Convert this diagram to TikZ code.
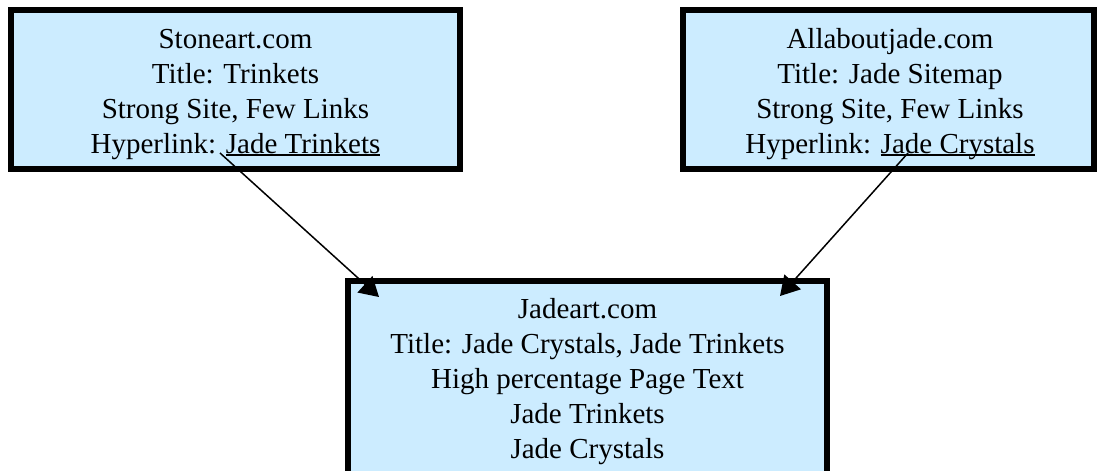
\documentclass[tikz,border=0pt]{standalone}
\usepackage{fontspec}
\setmainfont{Liberation Serif}
\usetikzlibrary{arrows.meta}
\definecolor{boxblue}{HTML}{CCECFF}
\newcommand\myul[1]{\setbox0\hbox{#1}\rlap{\rule[-2.75pt]{\wd0}{1.5pt}}\box0}
\begin{document}
\begin{tikzpicture}[x=1pt,y=-1pt,
  sitebox/.style={draw=black, line width=6pt, fill=boxblue, rectangle, inner sep=0pt},
  sitetext/.style={anchor=north, inner sep=0pt, align=center, font=\fontsize{29}{35}\selectfont},
  link/.style={line width=1.5pt, -{Triangle[length=19pt,width=22pt]}}]
\useasboundingbox (0,0) rectangle (1098,471);
\begin{scope}
\clip (0,0) rectangle (1098,471);
\node[sitebox, minimum width=449pt, minimum height=159pt] (stone) at (235.5,89.5) {};
\node[sitebox, minimum width=410.5pt, minimum height=159pt] (allabout) at (888.25,89.5) {};
\node[sitebox, minimum width=479pt, minimum height=219pt] (jadeart) at (587.5,390.5) {};
\end{scope}
\node[sitetext] (stoneT) at (235.5,23) {\rule{0pt}{25pt}Stoneart.com\\Title: Trinkets\\Strong Site, Few Links\\Hyperlink: \myul{Jade Trinkets}};
\node[sitetext] (allaboutT) at (890,23) {\rule{0pt}{25pt}Allaboutjade.com\\Title: Jade Sitemap\\Strong Site, Few Links\\Hyperlink: \myul{Jade Crystals}};
\node[sitetext] (jadeartT) at (587.5,293) {\rule{0pt}{25pt}Jadeart.com\\Title: Jade Crystals, Jade Trinkets\\High percentage Page Text\\Jade Trinkets\\Jade Crystals};
\coordinate (sFrom) at (220,153);
\coordinate (sTo) at (379,297);
\coordinate (aFrom) at (908,153);
\coordinate (aTo) at (780,296);
\draw[link] (sFrom) -- (sTo);
\draw[link] (aFrom) -- (aTo);
\end{tikzpicture}
\end{document}
